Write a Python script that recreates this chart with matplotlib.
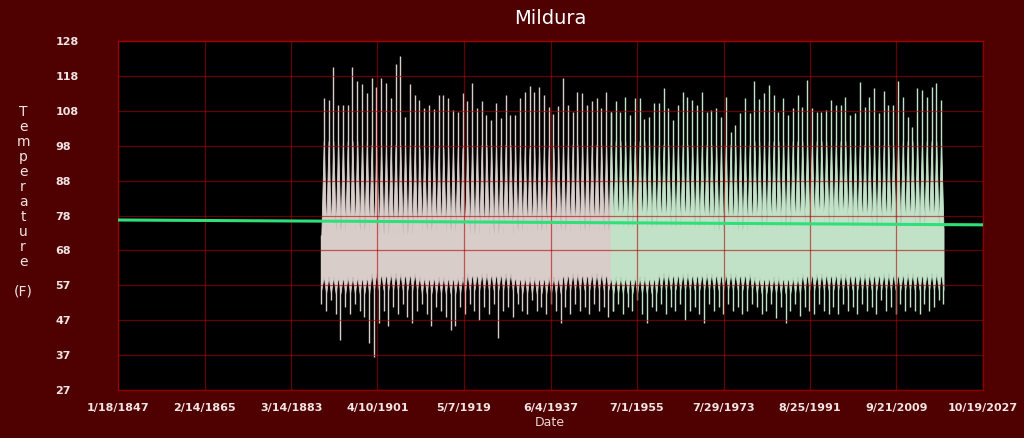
import numpy as np
import pandas as pd
import matplotlib
matplotlib.use("Agg")
import matplotlib.pyplot as plt

# annual summer peaks (Jan) and winter troughs (Jul)
high_years = list(range(1890, 2020))
highs = [111.4, 111.0, 120.5, 109.5, 109.5, 109.5, 120.5, 116.4, 115.5, 112.9,
         117.2, 114.8, 117.2, 115.8, 111.4, 121.3, 123.7, 106.1, 115.6, 112.4,
         110.9, 108.5, 109.5, 108.2, 112.4, 112.4, 111.4, 107.9, 107.5, 112.9,
         110.5, 115.8, 108.5, 110.5, 106.6, 105.2, 110.0, 105.6, 112.4, 106.6,
         106.6, 111.4, 113.3, 115.0,
         113.3, 114.8, 112.4, 109.0, 107.0, 109.2, 117.2, 109.5, 107.5, 113.3,
         113.0, 109.5, 110.5, 111.4, 108.5, 113.3, 107.5, 110.5, 107.5, 111.9,
         106.6, 111.4, 111.4, 105.3, 106.1, 110.0, 110.2, 114.3, 108.5, 105.2,
         109.5, 113.3, 111.9, 110.9, 109.5, 113.3, 107.5, 107.9, 108.5, 106.1,
         111.9, 101.8,
         103.7, 107.1, 111.4, 107.1, 116.5, 111.1, 112.9, 115.3, 112.4, 107.5,
         111.4, 106.6, 108.5, 112.4, 109.0, 116.7, 108.5, 107.5, 107.5, 107.9,
         110.9, 109.5, 109.5, 111.9, 106.6, 107.1, 116.2, 109.0, 111.9, 114.5,
         107.1, 113.6, 109.5, 109.5, 116.5, 111.9, 106.1, 103.0, 114.3, 113.8,
         111.9, 114.8, 115.8, 110.9, 115.8]
high_years = high_years[:len(highs)]

low_years = list(range(1889, 2020))
lows = [52.0, 50.0, 53.0, 49.0, 41.5, 51.0, 49.0, 52.0, 50.0, 48.0,
        40.6, 36.6, 46.5, 50.0, 45.6, 51.0, 49.0, 52.0, 48.0, 46.5,
        50.0, 52.0, 49.0, 45.6, 51.0, 50.0, 48.0, 44.3, 45.6, 51.0,
        49.0, 52.0, 50.0, 47.3, 51.0, 49.0, 52.0, 42.0, 50.0, 51.0,
        48.0, 52.0, 50.0, 49.0, 53.0, 50.0, 51.0, 49.0, 52.0, 50.0,
        46.5, 51.0, 49.0, 52.0, 50.0, 51.0, 49.0, 52.0, 50.0, 51.0,
        48.0, 50.0, 52.0, 49.0, 51.0, 50.0, 53.0, 49.0, 46.5, 51.0,
        50.0, 52.0, 49.0, 51.0, 50.0, 52.0, 47.4, 50.0, 51.0, 49.0,
        46.3, 52.0, 50.0, 51.0, 49.0, 52.0, 50.0, 51.0, 49.0, 50.0,
        52.0, 51.0, 49.0, 50.0, 52.0, 47.8, 51.0, 46.5, 50.0, 52.0,
        48.5, 51.0, 50.0, 49.0, 52.0, 50.0, 48.9, 51.0, 49.0, 52.0,
        50.0, 51.0, 49.0, 52.0, 50.0, 51.0, 49.0, 53.0, 50.0, 51.0,
        49.0, 52.0, 50.0, 51.0, 50.0, 49.0, 52.0, 50.0, 51.0, 53.0,
        52.0]
low_years = low_years[:len(lows)]

# edges of the dense body of the daily trace, by decade
decades = [1880, 1890, 1900, 1910, 1920, 1930, 1940, 1950, 1960, 1970, 1980, 1990, 2000, 2010]
summer_top = [97, 99, 98, 97, 98, 97, 98, 99, 98, 98, 99, 99, 98, 99]
winter_top = [72, 73, 72, 73, 72, 73, 73, 74, 74, 73, 74, 75, 74, 74]
summer_bottom = [61, 60, 61, 60, 61, 60, 61, 60, 61, 61, 60, 61, 61, 61]
winter_bottom = [56, 55, 56, 55, 56, 55, 56, 55, 56, 56, 55, 56, 56, 56]

color_split = "1950-01-01"

trend_dates = ["1847-01-18", "2027-10-19"]
trend_vals = [76.2, 74.8]

tick_dates = ["1847-01-18", "1865-02-14", "1883-03-14", "1901-04-10", "1919-05-07",
              "1937-06-04", "1955-07-01", "1973-07-29", "1991-08-25", "2009-09-21",
              "2027-10-19"]
ytick_labels = ["27", "37", "47", "57", "68", "78", "88", "98", "108", "118", "128"]

# body envelope: Jan = summer, Jul = winter; spikes run out to the peaks / troughs
rows = []
for y, v in zip(low_years, lows):
    i = decades.index(y // 10 * 10)
    rows.append((pd.Timestamp(f"{y}-07-15"), winter_top[i], winter_bottom[i], v))
for y, v in zip(high_years, highs):
    i = decades.index(y // 10 * 10)
    rows.append((pd.Timestamp(f"{y}-01-15"), summer_top[i], summer_bottom[i], v))
env = pd.DataFrame(rows, columns=["date", "top", "bottom", "extreme"]).set_index("date").sort_index()

bg = "#4f0000"
fig = plt.figure(figsize=(10.24, 4.38), dpi=100, facecolor=bg)
ax = fig.add_axes([118/1024, 48/438, 865/1024, 349/438])
ax.set_facecolor("black")

split = pd.Timestamp(color_split)
early = env[env.index <= split + pd.Timedelta(days=200)]
late = env[env.index >= split]
for part, col in [(early, "#d9cdca"), (late, "#c2e2c8")]:
    ax.fill_between(part.index, part["bottom"], part["top"], color=col, lw=0.6,
                    edgecolor=col, zorder=2)
    summer = part[part.index.month == 1]
    winter = part[part.index.month == 7]
    ax.vlines(summer.index, summer["bottom"], summer["extreme"], color=col, lw=1.0, zorder=2)
    ax.vlines(winter.index, winter["extreme"], winter["top"], color=col, lw=1.0, zorder=2)

ax.plot(pd.to_datetime(trend_dates), trend_vals, color="#2ee07a", lw=2.2, zorder=4)

ticks = pd.to_datetime(tick_dates)
ax.set_xlim(ticks[0], ticks[-1])
ax.set_xticks(ticks)
ax.set_xticklabels([f"{d.month}/{d.day}/{d.year}" for d in ticks])
ax.set_ylim(27, 128)
ax.set_yticks(np.linspace(27, 128, 11))
ax.set_yticklabels(ytick_labels)

ax.grid(True, color="#b00000", lw=0.9, alpha=0.6, zorder=3)
ax.set_axisbelow(False)
for s in ax.spines.values():
    s.set_color("#8b0000")
    s.set_linewidth(1.0)

ax.tick_params(axis="both", length=0, colors="#f2e4e4", labelsize=8)
ax.tick_params(axis="y", pad=45)
ax.tick_params(axis="x", pad=9)
for lab in ax.get_yticklabels():
    lab.set_horizontalalignment("left")
    lab.set_fontweight("bold")
for lab in ax.get_xticklabels():
    lab.set_fontweight("bold")

fig.text(550/1024, 1 - 18/438, "Mildura", color="white", fontsize=14,
         ha="center", va="center")
fig.text(550/1024, 1 - 423/438, "Date", color="#e8d8d8", fontsize=9,
         ha="center", va="center")
fig.text(23/1024, 1 - 202/438, "\n".join("Temperature") + "\n\n(F)",
         color="#f2e4e4", fontsize=10, ha="center", va="center", linespacing=1.09)

fig.savefig("out.png", dpi=100, facecolor=bg)
